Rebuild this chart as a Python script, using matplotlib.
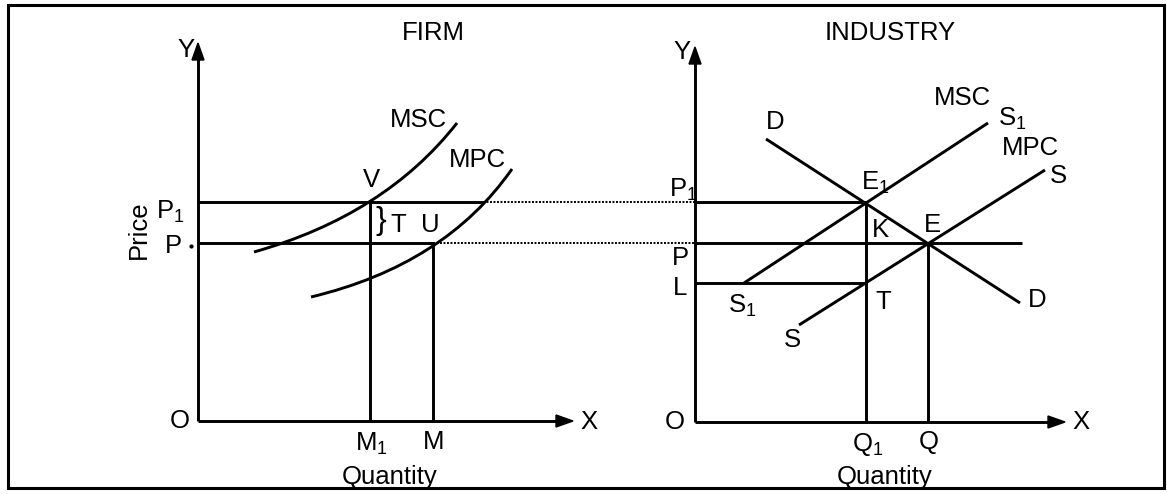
import matplotlib
matplotlib.use("Agg")
import matplotlib.pyplot as plt
from matplotlib.path import Path
from matplotlib.patches import PathPatch, Polygon, Rectangle

plt.rcParams['font.family'] = ['Liberation Sans', 'DejaVu Sans']
plt.rcParams['mathtext.fontset'] = 'custom'
plt.rcParams['mathtext.rm'] = 'Liberation Sans'
plt.rcParams['mathtext.it'] = 'Liberation Sans'
plt.rcParams['mathtext.default'] = 'rm'

# ---- diagram data (figure pixel units, y measured downward) ----
# FIRM panel
firm_origin = (198, 421)
firm_y_top = 43
firm_x_end = 573
firm_p1 = 202
firm_p = 243
firm_m1 = 370
firm_m = 433
firm_p1_end = 483          # where P1 line meets MPC
msc_firm = [(254, 252), (385, 215), (457, 123)]   # quadratic Bezier (start, control, end)
mpc_firm = [(311, 297), (445, 265), (512, 169)]

# INDUSTRY panel
ind_origin = (695, 422)
ind_y_top = 47
ind_x_end = 1065
ind_p1 = 202
ind_p = 243
ind_l = 283
ind_q1 = 866
ind_q = 928
ind_p_end = 1022
demand = [(766, 139), (1020, 303)]
supply_msc = [(744, 283), (988, 123)]
supply_mpc = [(799, 325), (1045, 170)]

W, H = 1167, 494
fig = plt.figure(figsize=(W / 100, H / 100), dpi=100)
ax = fig.add_axes([0, 0, 1, 1])
ax.set_xlim(0, W)
ax.set_ylim(H, 0)
ax.axis('off')

lw = 2.1
k = 'black'
fs = 18.5

# border
ax.add_patch(Rectangle((8, 5), 1156, 483, fill=False, lw=2.2, ec=k))


def axes_arrows(origin, ytop, xend):
    ox, oy = origin
    ax.plot([ox, ox], [oy, ytop + 10], color=k, lw=lw, solid_capstyle='butt')
    ax.plot([ox, xend - 12], [oy, oy], color=k, lw=lw, solid_capstyle='butt')
    ax.add_patch(Polygon([(ox, ytop), (ox - 6, ytop + 17), (ox + 6, ytop + 17)],
                         closed=True, color=k))
    ax.add_patch(Polygon([(xend, oy), (xend - 17, oy - 6), (xend - 17, oy + 6)],
                         closed=True, color=k))


def bezier(pts):
    path = Path(pts, [Path.MOVETO, Path.CURVE3, Path.CURVE3])
    ax.add_patch(PathPatch(path, fill=False, lw=lw, ec=k))


def line(p, q, **kw):
    ax.plot([p[0], q[0]], [p[1], q[1]], color=k, lw=kw.pop('lw', lw),
            solid_capstyle='butt', **kw)


def lab(x, y, s, **kw):
    ax.text(x, y, s, fontsize=kw.pop('fontsize', fs), ha='center', va='center', **kw)


# ---- FIRM ----
axes_arrows(firm_origin, firm_y_top, firm_x_end)
fx = firm_origin[0]
fy = firm_origin[1]
bezier(msc_firm)
bezier(mpc_firm)
line((fx, firm_p1), (firm_p1_end, firm_p1))
line((fx, firm_p), (firm_m, firm_p))
line((firm_m1, firm_p1), (firm_m1, fy))
line((firm_m, firm_p), (firm_m, fy))

# dotted connectors
ax.plot([firm_p1_end, ind_origin[0]], [firm_p1, ind_p1], color=k, lw=1.4, ls=(0, (1, 0.8)))
ax.plot([firm_m, ind_origin[0]], [firm_p, ind_p], color=k, lw=1.4, ls=(0, (1, 0.8)))

lab(433, 33, 'FIRM')
lab(186, 50, 'Y')
lab(180, 421, 'O')
lab(589, 422, 'X')
lab(139, 230, 'Price', rotation=90)
lab(170, 212, 'P$_1$')
lab(173, 246, 'P')
ax.plot([191], [246], marker='o', ms=2, color=k)
lab(371, 444, 'M$_1$')
lab(434, 442, 'M')
lab(390, 477, 'Quantity')
lab(418, 120, 'MSC')
lab(477, 160, 'MPC')
lab(371, 180, 'V')
lab(381, 221, '}', fontsize=23)
lab(398, 225, 'T')
lab(430, 225, 'U')

# ---- INDUSTRY ----
axes_arrows(ind_origin, ind_y_top, ind_x_end)
ix = ind_origin[0]
iy = ind_origin[1]
line(*demand)
line(*supply_msc)
line(*supply_mpc)
line((ix, ind_p1), (ind_q1, ind_p1))
line((ix, ind_p), (ind_p_end, ind_p))
line((ix, ind_l), (ind_q1, ind_l))
line((ind_q1, ind_p1), (ind_q1, iy))
line((ind_q, ind_p), (ind_q, iy))

lab(890, 33, 'INDUSTRY')
lab(682, 52, 'Y')
lab(675, 422, 'O')
lab(1081, 422, 'X')
lab(683, 190, 'P$_1$')
lab(680, 258, 'P')
lab(680, 288, 'L')
lab(742, 306, 'S$_1$')
lab(792, 340, 'S')
lab(883, 302, 'T')
lab(880, 230, 'K')
lab(932, 225, 'E')
lab(875, 183, 'E$_1$')
lab(775, 122, 'D')
lab(962, 98, 'MSC')
lab(1012, 119, 'S$_1$')
lab(1030, 148, 'MPC')
lab(1058, 176, 'S')
lab(1037, 300, 'D')
lab(868, 444, 'Q$_1$')
lab(929, 442, 'Q')
lab(885, 477, 'Quantity')

fig.savefig('out.png', dpi=100)
